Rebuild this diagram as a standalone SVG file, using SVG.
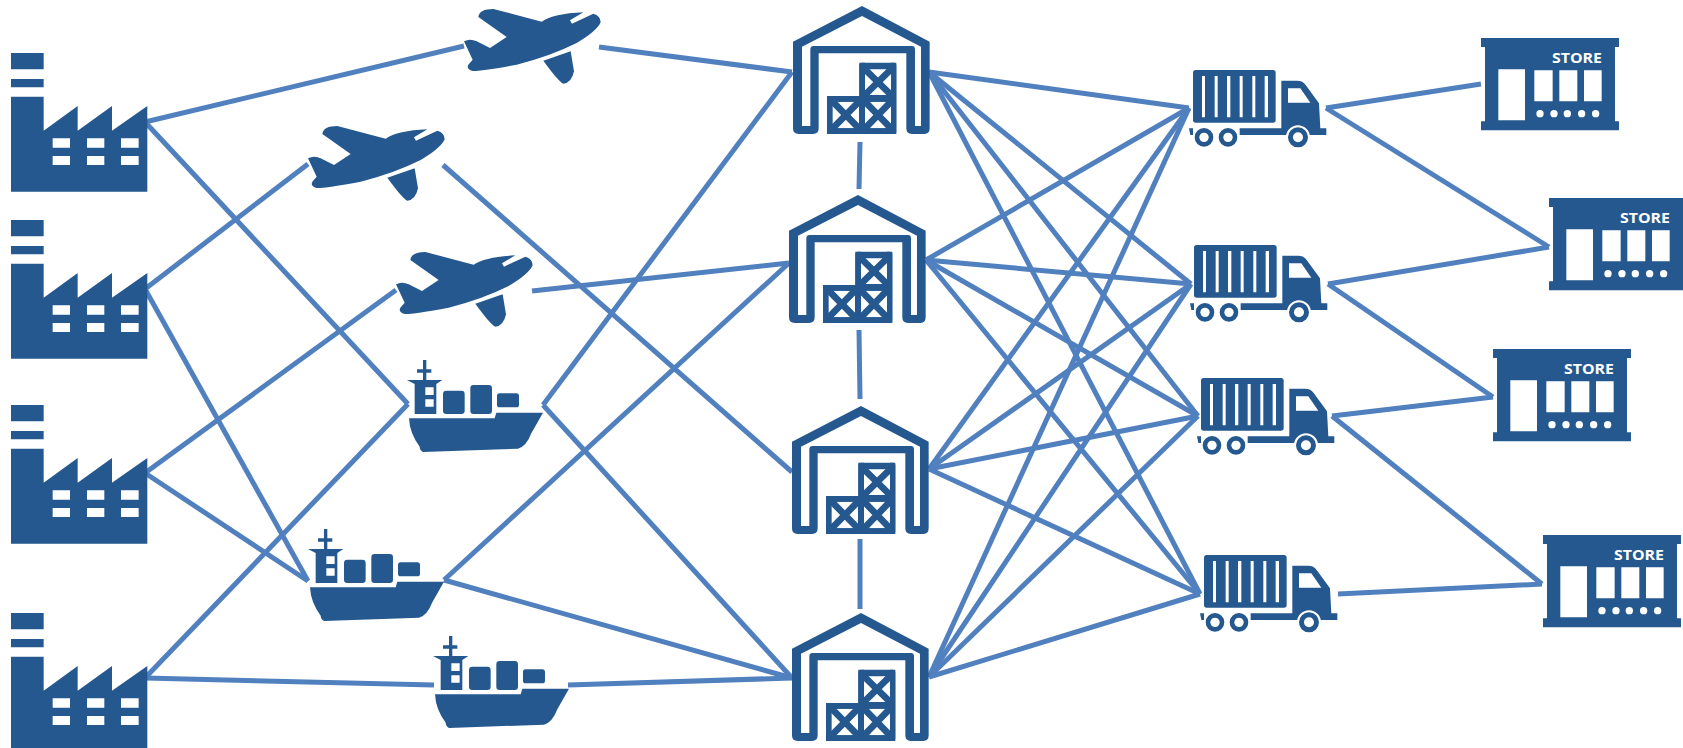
<svg xmlns="http://www.w3.org/2000/svg" xmlns:xlink="http://www.w3.org/1999/xlink" width="1683" height="748" viewBox="0 0 1683 748">
<style>
.i{fill:#24588f}.w{fill:#fff}
.x{stroke:#24588f;stroke-width:20;fill:none}
#connectors line{stroke:#5180bf;stroke-width:5;stroke-linecap:butt}
.t{font-family:"Open Sans","Liberation Sans",sans-serif;font-weight:700;font-size:15px;fill:#fff}
</style>
<defs>
<g id="factory" transform="scale(.3333) translate(-35,-69)">
<path class="i" d="M35 69H133V118H35ZM35 147H133V172H35ZM35 200H133V302L235 228V302L338 228V302L444 228V485H35Z"/>
<path class="w" d="M160 325h52v28h-52zM263 325h52v28h-52zM365 325h53v28h-53zM160 378h52v27h-52zM263 378h52v27h-52zM365 378h53v27h-53z"/>
</g>
<g id="plane" transform="scale(.3333) translate(-42,-28)">
<path class="i" d="M85 52Q88 28 130 28L275 66Q310 42 400 38L360 62L366 72L430 42Q452 48 452 68Q440 95 380 130Q300 170 200 195Q100 214 68 214Q48 208 55 195L68 180L42 125Q60 115 80 125L120 145L170 112Z"/>
<path class="i" d="M280 183L362 155L372 215Q365 250 340 252Q325 245 280 183Z"/>
</g>
<g id="warehouse" transform="scale(.3333) translate(-38,-18)">
<path class="i" fill-rule="evenodd" d="M245 18L448 125V385Q448 402 432 402H395Q378 402 378 385V160H115V385Q115 402 98 402H55Q38 402 38 385V125ZM245 48L65 140V378H90V148Q90 138 100 138H395Q404 138 404 148V378H422V140Z"/>
<path class="i" d="M148 288H237V196Q237 188 245 188H340Q348 188 348 196V394Q348 402 340 402H148Q140 402 140 394V296Q140 288 148 288Z"/>
<path class="w" d="M254 208h78v77h-78zM157 305h79v80h-79zM254 305h78v80h-78z"/>
<path class="x" d="M254 208L332 285M332 208L254 285M157 305L236 385M236 305L157 385M254 305L332 385M332 305L254 385"/>
<path class="i" d="M237 188h17v214h-17zM140 288h208v17H140zM332 188h16v214h-16zM140 385h208v17H140z"/>
</g>
<g id="truck" transform="scale(.3333) translate(-28,-30)">
<rect class="i" x="40" y="30" width="248" height="158" rx="8"/>
<path class="w" d="M67 48h9v124h-9zM105 48h9v124h-9zM142 48h10v124h-10zM180 48h9v124h-9zM218 48h9v124h-9zM255 48h10v124h-10z"/>
<path class="i" d="M305 62H352Q370 62 378 75L418 130L422 205H440V225H180V205H305ZM28 205H40V225H32Z"/>
<path class="w" d="M325 85H362L392 128H325Z"/>
<g class="i" stroke="#fff" stroke-width="6">
<circle cx="73" cy="232" r="31"/><circle cx="145" cy="232" r="31"/><circle cx="355" cy="232" r="33"/>
</g>
<circle class="w" cx="73" cy="232" r="14"/><circle class="w" cx="145" cy="232" r="14"/><circle class="w" cx="355" cy="232" r="15"/>
</g>
<g id="store" transform="scale(.3333) translate(-33,-38)">
<path class="i" d="M33 38H447V65H435V288H447V315H33V288H45V65H33Z"/>
<path class="w" d="M85 132h80v153h-80zM193 135h55v93h-55zM268 135h54v93h-54zM342 135h53v93h-53z"/>
<circle class="w" cx="210" cy="265" r="11"/><circle class="w" cx="252" cy="265" r="11"/><circle class="w" cx="292" cy="265" r="11"/><circle class="w" cx="335" cy="265" r="11"/><circle class="w" cx="377" cy="265" r="11"/>
</g>
<g id="ship" transform="scale(.3333) translate(-22,-30)">
<path class="i" d="M70 30h10v28h15v10h-15v22h48l-18 12v90H45V102L22 90H70V68H52V58h18ZM140 122h45q10 0 10 10v50q0 10-10 10h-45q-10 0-10-10v-50q0-10 10-10ZM222 105h45q10 0 10 10v67q0 10-10 10h-45q-10 0-10-10v-67q0-10 10-10ZM300 130h50q8 0 8 8v26q0 8-8 8h-50q-8 0-8-8v-26q0-8 8-8ZM28 205H285L290 188H430L395 250Q380 290 355 296L70 306Q60 300 60 290Q30 250 28 205Z"/>
<path class="w" d="M77 112h25v23h-25zM77 148h25v22h-25z"/>
</g>
</defs>
<g id="connectors">
<line x1="145" y1="122" x2="464" y2="46"/>
<line x1="145" y1="122" x2="408" y2="404"/>
<line x1="145" y1="289" x2="308" y2="164"/>
<line x1="145" y1="289" x2="308" y2="581"/>
<line x1="145" y1="473" x2="396" y2="290"/>
<line x1="145" y1="473" x2="308" y2="581"/>
<line x1="145" y1="678" x2="408" y2="404"/>
<line x1="145" y1="678" x2="434" y2="685"/>
<line x1="599" y1="47" x2="792" y2="72"/>
<line x1="443" y1="165" x2="792" y2="472"/>
<line x1="532" y1="291" x2="789" y2="263"/>
<line x1="543" y1="405" x2="792" y2="72"/>
<line x1="543" y1="405" x2="792" y2="678"/>
<line x1="444" y1="580" x2="789" y2="263"/>
<line x1="444" y1="580" x2="792" y2="678"/>
<line x1="568" y1="685" x2="792" y2="678"/>
<line x1="860" y1="142" x2="859" y2="189"/>
<line x1="859" y1="330" x2="860" y2="399"/>
<line x1="860" y1="539" x2="860" y2="609"/>
<line x1="929" y1="72" x2="1189" y2="108"/>
<line x1="929" y1="72" x2="1191" y2="284"/>
<line x1="929" y1="72" x2="1198" y2="416"/>
<line x1="929" y1="72" x2="1200" y2="594"/>
<line x1="926" y1="260" x2="1189" y2="108"/>
<line x1="926" y1="260" x2="1191" y2="284"/>
<line x1="926" y1="260" x2="1198" y2="416"/>
<line x1="926" y1="260" x2="1200" y2="594"/>
<line x1="929" y1="469" x2="1189" y2="108"/>
<line x1="929" y1="469" x2="1191" y2="284"/>
<line x1="929" y1="469" x2="1198" y2="416"/>
<line x1="929" y1="469" x2="1200" y2="594"/>
<line x1="929" y1="677" x2="1189" y2="108"/>
<line x1="929" y1="677" x2="1191" y2="284"/>
<line x1="929" y1="677" x2="1198" y2="416"/>
<line x1="929" y1="677" x2="1200" y2="594"/>
<line x1="1326" y1="108" x2="1481" y2="84"/>
<line x1="1326" y1="108" x2="1549" y2="247"/>
<line x1="1328" y1="284" x2="1549" y2="247"/>
<line x1="1328" y1="284" x2="1493" y2="397"/>
<line x1="1332" y1="416" x2="1493" y2="397"/>
<line x1="1332" y1="416" x2="1542" y2="584"/>
<line x1="1338" y1="594" x2="1542" y2="584"/>
</g>
<g id="factory1" transform="translate(11,53)"><use href="#factory"/></g>
<g id="factory2" transform="translate(11,220)"><use href="#factory"/></g>
<g id="factory3" transform="translate(11,405)"><use href="#factory"/></g>
<g id="factory4" transform="translate(11,613)"><use href="#factory"/></g>
<g id="plane1" transform="translate(464,9)"><use href="#plane"/></g>
<g id="plane2" transform="translate(308,126)"><use href="#plane"/></g>
<g id="plane3" transform="translate(396,252)"><use href="#plane"/></g>
<g id="ship1" transform="translate(407,360)"><use href="#ship"/></g>
<g id="ship2" transform="translate(308,529)"><use href="#ship"/></g>
<g id="ship3" transform="translate(433,636)"><use href="#ship"/></g>
<g id="warehouse1" transform="translate(793,6)"><use href="#warehouse"/></g>
<g id="warehouse2" transform="translate(789,195)"><use href="#warehouse"/></g>
<g id="warehouse3" transform="translate(792,406)"><use href="#warehouse"/></g>
<g id="warehouse4" transform="translate(792,613)"><use href="#warehouse"/></g>
<g id="truck1" transform="translate(1189,70)"><use href="#truck"/></g>
<g id="truck2" transform="translate(1190,245)"><use href="#truck"/></g>
<g id="truck3" transform="translate(1197,378)"><use href="#truck"/></g>
<g id="truck4" transform="translate(1200,555)"><use href="#truck"/></g>
<g id="store1" transform="translate(1481,38)"><use href="#store"/><text class="t" x="71" y="25" textLength="50" lengthAdjust="spacingAndGlyphs">STORE</text></g>
<g id="store2" transform="translate(1549,198)"><use href="#store"/><text class="t" x="71" y="25" textLength="50" lengthAdjust="spacingAndGlyphs">STORE</text></g>
<g id="store3" transform="translate(1493,349)"><use href="#store"/><text class="t" x="71" y="25" textLength="50" lengthAdjust="spacingAndGlyphs">STORE</text></g>
<g id="store4" transform="translate(1543,535)"><use href="#store"/><text class="t" x="71" y="25" textLength="50" lengthAdjust="spacingAndGlyphs">STORE</text></g>
</svg>
